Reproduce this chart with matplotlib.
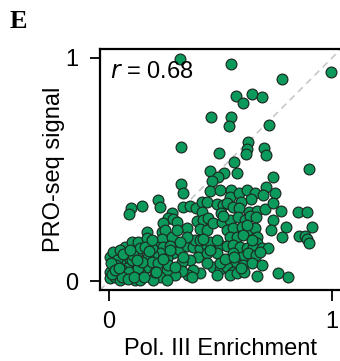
import numpy as np
import matplotlib
matplotlib.use("Agg")
from matplotlib import pyplot as plt

# === Dados (Pol. III vs PRO-seq, escala 0-1) ===
pol3 = [0.318, 0.546, 0.995, 0.776, 0.570, 0.603, 0.640, 0.685, 0.456, 0.547,
        0.537, 0.716, 0.321, 0.495, 0.625, 0.619, 0.616, 0.697, 0.706, 0.561,
        0.897, 0.453, 0.514, 0.573, 0.491, 0.460, 0.734, 0.323, 0.330, 0.453,
        0.498, 0.548, 0.543, 0.585, 0.618, 0.655, 0.704, 0.692, 0.744, 0.639,
        0.593, 0.221, 0.228, 0.147, 0.097, 0.091, 0.330, 0.363, 0.390, 0.416,
        0.438, 0.416, 0.484, 0.509, 0.531, 0.500, 0.558, 0.585, 0.626, 0.663,
        0.700, 0.737, 0.771, 0.846, 0.889, 0.737, 0.792, 0.909, 0.853, 0.879,
        0.887, 0.899, 0.776, 0.726, 0.281, 0.266, 0.289, 0.303, 0.244, 0.348,
        0.396, 0.423, 0.445, 0.408, 0.438, 0.468, 0.505, 0.543, 0.580, 0.610,
        0.632, 0.659, 0.528, 0.558, 0.595, 0.625, 0.655, 0.543, 0.576, 0.603,
        0.663, 0.663, 0.169, 0.236, 0.251, 0.236, 0.281, 0.214, 0.244, 0.229,
        0.199, 0.191, 0.272, 0.289, 0.260, 0.318, 0.348, 0.378, 0.408, 0.438,
        0.468, 0.498, 0.528, 0.558, 0.587, 0.617, 0.647, 0.685, 0.714, 0.401,
        0.363, 0.326, 0.438, 0.483, 0.558, 0.595, 0.625, 0.657, 0.570, 0.600,
        0.640, 0.685, 0.468, 0.498, 0.528, 0.558, 0.483, 0.543, 0.576, 0.663,
        0.758, 0.804, 0.408, 0.378, 0.354, 0.326, 0.296, 0.259, 0.229, 0.199,
        0.259, 0.169, 0.139, 0.109, 0.079, 0.042, 0.004, 0.019, 0.049, 0.019,
        0.004, 0.004, 0.027, 0.049, 0.072, 0.094, 0.117, 0.139, 0.079, 0.102,
        0.124, 0.117, 0.072, 0.102, 0.132, 0.139, 0.109, 0.034, 0.057, 0.034,
        0.091, 0.132, 0.176, 0.191, 0.221, 0.206, 0.266, 0.296, 0.169, 0.161,
        0.191, 0.386, 0.408, 0.455, 0.348, 0.318, 0.483, 0.303, 0.438, 0.498,
        0.015, 0.060, 0.030, 0.085, 0.050, 0.010, 0.065, 0.110, 0.150, 0.025,
        0.045, 0.095, 0.125, 0.155, 0.180, 0.210, 0.240, 0.275, 0.330, 0.370,
        0.420, 0.455, 0.520, 0.560, 0.605, 0.640, 0.675, 0.510, 0.590, 0.620]
proseq = [0.997, 0.975, 0.936, 0.906, 0.830, 0.797, 0.839, 0.827, 0.737, 0.737,
          0.695, 0.701, 0.602, 0.575, 0.622, 0.590, 0.569, 0.596, 0.564, 0.535,
          0.501, 0.495, 0.486, 0.486, 0.468, 0.448, 0.468, 0.433, 0.393, 0.405,
          0.408, 0.408, 0.378, 0.393, 0.408, 0.396, 0.420, 0.386, 0.393, 0.366,
          0.356, 0.363, 0.333, 0.338, 0.326, 0.300, 0.333, 0.336, 0.326, 0.356,
          0.356, 0.311, 0.345, 0.341, 0.351, 0.303, 0.333, 0.326, 0.311, 0.315,
          0.321, 0.351, 0.315, 0.309, 0.309, 0.274, 0.244, 0.241, 0.204, 0.204,
          0.190, 0.169, 0.196, 0.229, 0.303, 0.281, 0.277, 0.266, 0.259, 0.236,
          0.271, 0.274, 0.281, 0.232, 0.229, 0.259, 0.266, 0.274, 0.288, 0.274,
          0.291, 0.286, 0.229, 0.236, 0.244, 0.229, 0.236, 0.199, 0.199, 0.206,
          0.199, 0.169, 0.221, 0.221, 0.229, 0.187, 0.199, 0.154, 0.154, 0.124,
          0.117, 0.147, 0.157, 0.124, 0.102, 0.139, 0.157, 0.154, 0.146, 0.157,
          0.161, 0.161, 0.157, 0.161, 0.154, 0.146, 0.154, 0.146, 0.146, 0.109,
          0.094, 0.087, 0.124, 0.124, 0.124, 0.109, 0.124, 0.117, 0.087, 0.072,
          0.082, 0.072, 0.064, 0.052, 0.064, 0.042, 0.027, 0.027, 0.034, 0.022,
          0.037, 0.019, 0.034, 0.049, 0.027, 0.046, 0.027, 0.049, 0.019, 0.004,
          0.004, 0.064, 0.034, 0.072, 0.094, 0.109, 0.109, 0.132, 0.079, 0.064,
          0.042, 0.012, 0.019, 0.004, 0.034, 0.019, 0.004, 0.004, 0.057, 0.094,
          0.124, 0.154, 0.154, 0.176, 0.176, 0.147, 0.117, 0.094, 0.049, 0.042,
          0.042, 0.057, 0.109, 0.087, 0.079, 0.042, 0.072, 0.064, 0.191, 0.154,
          0.184, 0.184, 0.184, 0.176, 0.199, 0.176, 0.184, 0.229, 0.079, 0.079,
          0.030, 0.020, 0.070, 0.010, 0.140, 0.080, 0.120, 0.020, 0.085, 0.050,
          0.060, 0.140, 0.095, 0.020, 0.135, 0.040, 0.100, 0.140, 0.110, 0.020,
          0.190, 0.140, 0.100, 0.110, 0.040, 0.185, 0.130, 0.290, 0.060, 0.250]
r_valor = "0.68"

# === Figura com o mesmo tamanho em pixels da referência ===
fig = plt.figure(figsize=(3.40, 3.61), dpi=100)
W, H = 340, 361
L, R, T, B = 99.5, 344, 49, 290   # caixa do gráfico (a direita fica cortada)
ax = fig.add_axes([L / W, (H - B) / H, (R - L) / W, (B - T) / H])

# Linha diagonal tracejada (y = x)
ax.axline((0, 0), (1, 1), color="#c8c8c8", lw=1.2, ls=(0, (4, 3)), zorder=1)

ax.scatter(pol3, proseq, s=60, facecolor="#0c9a5c", edgecolor="#1c2e24",
           linewidth=0.9, zorder=3, clip_on=False)

# limites: 0 em x=109 px e 1 em x=332 px
x0 = -(109 - L) / 223
ax.set_xlim(x0, x0 + (R - L) / 223)
ax.set_ylim(-0.04, 1.04)
ax.set_xticks([0, 1])
ax.set_yticks([0, 1])
ax.set_xticklabels(["0", "1"], family="Liberation Sans", fontsize=17)
ax.set_yticklabels(["0", "1"], family="Liberation Sans", fontsize=17)
ax.tick_params(axis="x", direction="out", length=8, width=1.3, pad=7)
ax.tick_params(axis="y", direction="out", length=7, width=1.3, pad=8)
for s in ax.spines.values():
    s.set_linewidth(1.6)

ax.set_xlabel("Pol. III Enrichment", family="Liberation Sans", fontsize=17)
ax.set_ylabel("PRO-seq signal", family="Liberation Sans", fontsize=17)
ax.xaxis.label.set_va("baseline")
ax.yaxis.label.set_va("baseline")
ax.xaxis.set_label_coords((220 - L) / (R - L), -(355 - B) / (B - T))
ax.yaxis.set_label_coords(-(L - 60) / (R - L), 0.5)

ax.text(0.005, 0.935, r"$\it{r}$ = " + r_valor, family="Liberation Sans",
        fontsize=17, va="center", ha="left", zorder=4)

fig.text(10 / W, 1 - 22 / H, "E", family="Liberation Serif", fontweight="bold",
         fontsize=19, va="center", ha="left")

fig.savefig("out.png", dpi=100)
